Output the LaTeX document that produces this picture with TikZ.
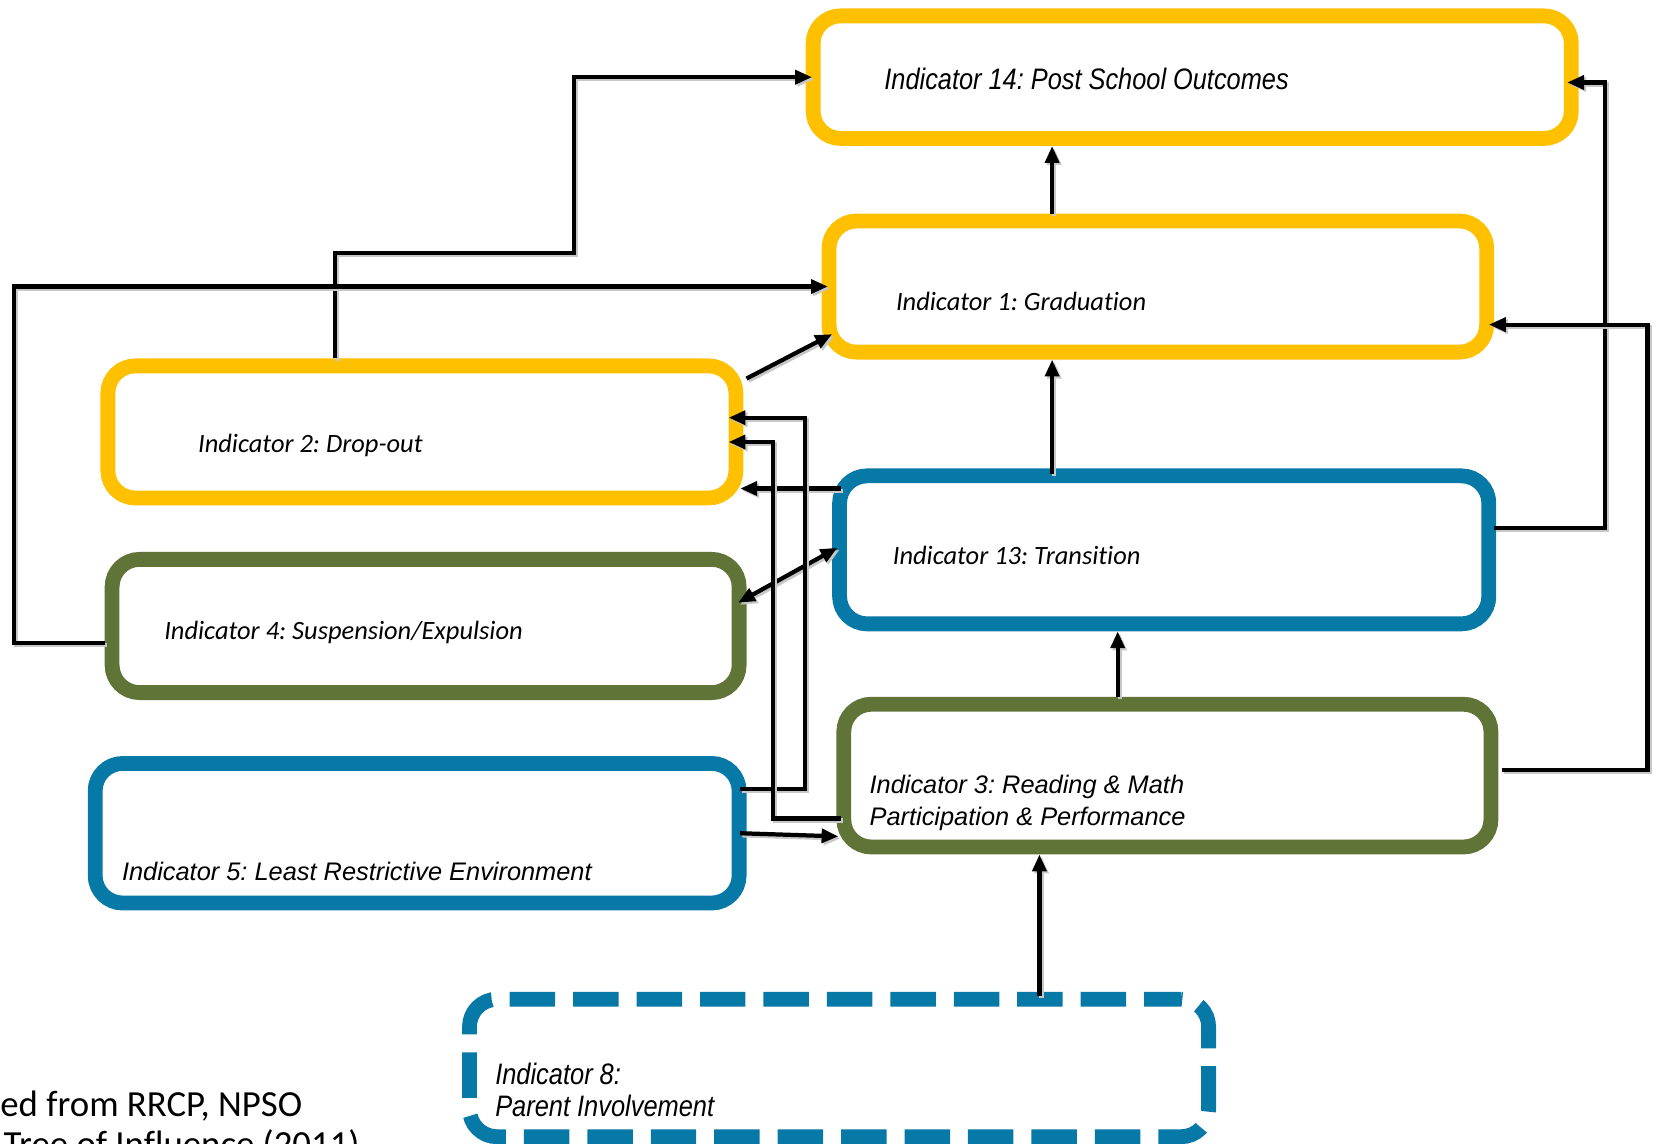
\documentclass[tikz,border=0pt]{standalone}
\usepackage{fontspec}
\setmainfont{Carlito}
\newfontfamily\calib[Ligatures=NoCommon,Contextuals=NoAlternate]{Carlito}
\newfontfamily\arialike{Liberation Sans}
\usetikzlibrary{arrows.meta,calc}
\definecolor{indyellow}{HTML}{FFC000}
\definecolor{indblue}{HTML}{0779A6}
\definecolor{indgreen}{HTML}{607437}
\frenchspacing

\begin{document}
\begin{tikzpicture}[x=0.5pt,y=-0.5pt,
  indbox/.style={draw, line width=7pt, rounded corners=13pt, fill=white, inner sep=0pt},
  yellowbox/.style={indbox, draw=indyellow},
  bluebox/.style={indbox, draw=indblue},
  greenbox/.style={indbox, draw=indgreen},
  dashbox/.style={indbox, draw=indblue, dash pattern=on 21.5pt off 8.5pt, dash phase=4pt},
  lblc/.style={font=\calib\itshape\fontsize{12.5}{15}\selectfont, inner sep=0pt, anchor=base west},
  lbla/.style={font=\arialike\itshape\fontsize{12}{15}\selectfont, inner sep=0pt, anchor=base west},
  lbln/.style={font=\arialike\itshape\fontsize{14}{16}\selectfont, inner sep=0pt, anchor=base west},
  src/.style={font=\calib\fontsize{17.4}{18}\selectfont, inner sep=0pt, anchor=base west},
  shade/.style={preaction={draw=black!22, line width=2pt, transform canvas={shift={(1pt,-1pt)}}}},
  link/.style={shade, line width=2pt, line join=miter},
  arr/.style={link, -{Triangle[length=8pt,width=6.5pt]}},
  arrboth/.style={link, {Triangle[length=8pt,width=6.5pt]}-{Triangle[length=8pt,width=6.5pt]}}
]
\useasboundingbox (0,0) rectangle (1568,1081);

% indicator boxes
\node[yellowbox, minimum width=358.5pt, minimum height=58pt] (b14) at (1127.5,73) {};
\node[yellowbox, minimum width=311pt, minimum height=62pt] (b1) at (1095,271) {};
\node[yellowbox, minimum width=297pt, minimum height=62.5pt] (b2) at (399,408.5) {};
\node[bluebox, minimum width=307pt, minimum height=70pt] (b13) at (1101,520) {};
\node[greenbox, minimum width=296.5pt, minimum height=63pt] (b4) at (402.5,592) {};
\node[greenbox, minimum width=306pt, minimum height=67.5pt] (b3) at (1104,733.5) {};
\node[bluebox, minimum width=304.5pt, minimum height=66pt] (b5) at (394.5,788) {};
\node[dashbox, minimum width=349.5pt, minimum height=65pt] (b8) at (793.5,1010) {};

% labels
\node[lbln] (t14) at (836,85) {\scalebox{0.856}[1]{Indicator 14: Post School Outcomes}};
\node[lblc] (t1) at (847,294) {Indicator 1: Graduation};
\node[lblc] (t2) at (187,428) {Indicator 2: Drop-out};
\node[lblc] (t13) at (844,534) {Indicator 13: Transition};
\node[lblc] (t4) at (155,605) {Indicator 4: Suspension/Expulsion};
\node[lbla] (t3a) at (822,750) {Indicator 3: Reading \& Math};
\node[lbla] (t3b) at (822,781) {Participation \& Performance};
\node[lbla] (t5) at (115,833) {Indicator 5: Least Restrictive Environment};
\node[lbln] (t8a) at (468,1026) {\scalebox{0.858}[1]{Indicator 8:}};
\node[lbln] (t8b) at (468,1056) {\scalebox{0.858}[1]{Parent Involvement}};

% source note, running off the lower edge
\node[src] (s1) at (0,1056) {ed from RRCP, NPSO};
\node[src] (s2) at (3,1094) {Tree of Influence (2011)};

% guide positions for the connectors
\coordinate (v1) at (995,0);
\coordinate (v2) at (1057,0);
\coordinate (v3) at (983,0);
\coordinate (k1) at (317,0);
\coordinate (k2) at (543,239);
\coordinate (k3) at (0,608);
\coordinate (k4) at (13,0);
\coordinate (k5) at (0,462);
\coordinate (k6) at (0,570);
\coordinate (k7) at (0,518);
\coordinate (k8) at (0,746);
\coordinate (k9) at (761,0);
\coordinate (k10) at (0,395);
\coordinate (k11) at (0,774);
\coordinate (k12) at (731,0);
\coordinate (k13) at (0,418);
\coordinate (k14) at (0,788);
\coordinate (k15) at (0,791);
\coordinate (k16) at (0,499);
\coordinate (k17) at (1518,0);
\coordinate (k18) at (0,78);
\coordinate (k19) at (0,728);
\coordinate (k20) at (1558,0);
\coordinate (k21) at (0,307);

% vertical links
\draw[arr] ([yshift=-2.5pt]b13.north -| v1) -- (b1.south -| v1);
\draw[arr] (b1.north -| v1) -- (b14.south -| v1);
\draw[arr] (b3.north -| v2) -- (b13.south -| v2);
\draw[arr] ([yshift=-2pt]b8.north -| v3) -- (b3.south -| v3);

% links on the left side
\draw[arr] (b2.north -| k1) |- (k2) |- ([xshift=3pt]b14.west);
\draw[arr] (b4.west |- k3) -| (k4 |- b1.west) -- ([xshift=3pt]b1.west);
\draw[arr] ([shift={(3,19)}]b2.north east) -- ([shift={(10,-24)}]b1.south west);
\draw[arr] ([xshift=4pt]b13.west |- k5) -- ([xshift=-1.5pt]b2.east |- k5);
\draw[arrboth] ([xshift=-4pt]b4.east |- k6) -- ([xshift=2.5pt]b13.west |- k7);
\draw[arr] ([xshift=-3pt]b5.east |- k8) -| (k9 |- k10) -- ([xshift=-7pt]b2.east |- k10);
\draw[arr] ([xshift=2pt]b3.west |- k11) -| (k12 |- k13) -- ([xshift=-7pt]b2.east |- k13);
\draw[arr] ([xshift=-3pt]b5.east |- k14) -- ([xshift=1pt]b3.west |- k15);

% links on the right side
\draw[arr] ([xshift=-1pt]b13.east |- k16) -| (k17 |- k18) -- ([xshift=-5.5pt]b14.east |- k18);
\draw[arr] ([xshift=1.5pt]b3.east |- k19) -| (k20 |- k21) -- ([xshift=-2.5pt]b1.east |- k21);
\end{tikzpicture}
\end{document}
